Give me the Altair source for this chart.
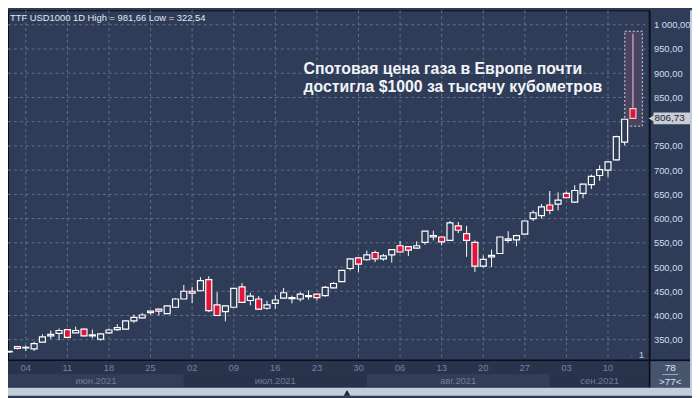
import altair as alt
import pandas as pd

# ---------------- data ----------------
dates = [
    "2021-06-02", "2021-06-03", "2021-06-04", "2021-06-07", "2021-06-08", "2021-06-09", "2021-06-10", "2021-06-11",
    "2021-06-14", "2021-06-15", "2021-06-16", "2021-06-17", "2021-06-18", "2021-06-21", "2021-06-22", "2021-06-23",
    "2021-06-24", "2021-06-25", "2021-06-28", "2021-06-29", "2021-06-30",
    "2021-07-01", "2021-07-02", "2021-07-05", "2021-07-06", "2021-07-07", "2021-07-08", "2021-07-09", "2021-07-12",
    "2021-07-13", "2021-07-14", "2021-07-15", "2021-07-16", "2021-07-19", "2021-07-20", "2021-07-21", "2021-07-22",
    "2021-07-23", "2021-07-26", "2021-07-27", "2021-07-28", "2021-07-29", "2021-07-30",
    "2021-08-02", "2021-08-03", "2021-08-04", "2021-08-05", "2021-08-06", "2021-08-09", "2021-08-10", "2021-08-11",
    "2021-08-12", "2021-08-13", "2021-08-16", "2021-08-17", "2021-08-18", "2021-08-19", "2021-08-20", "2021-08-23",
    "2021-08-24", "2021-08-25", "2021-08-26", "2021-08-27", "2021-08-30", "2021-08-31",
    "2021-09-01", "2021-09-02", "2021-09-03", "2021-09-06", "2021-09-07", "2021-09-08", "2021-09-09", "2021-09-10",
    "2021-09-13", "2021-09-14", "2021-09-15",
]
opens = [325, 336, 333, 331, 345, 358, 363, 371, 364, 372, 358, 351, 364, 371, 372, 389, 395, 406, 413, 404, 417,
         434, 450, 451, 474, 422, 408, 417, 459, 431, 434, 415, 425, 436, 435, 434, 439, 444, 441, 457, 470, 497, 519,
         515, 530, 517, 525, 544, 542, 539, 551, 562, 562, 555, 585, 569, 551, 502, 521, 528, 555, 556, 568, 600, 606,
         628, 630, 652, 634, 652, 670, 689, 700, 721, 758, 827]
highs = [327, 337, 338, 346, 361, 369, 373, 372, 377, 373, 371, 363, 373, 382, 390, 402, 405, 410, 414, 421, 436,
         463, 459, 479, 481, 448, 421, 457, 467, 447, 440, 430, 442, 457, 441, 448, 452, 445, 461, 469, 494, 518, 520,
         534, 534, 527, 536, 554, 543, 553, 574, 575, 563, 595, 593, 585, 555, 524, 536, 563, 574, 567, 596, 617, 630,
         657, 654, 656, 669, 672, 691, 710, 718, 771, 806, 981.66]
lows = [322.54, 330, 327, 327, 345, 352, 349, 354, 364, 357, 353, 348, 362, 368, 372, 385, 394, 402, 400, 403, 416,
        434, 426, 450, 407, 399, 388, 416, 426, 421, 412, 412, 414, 435, 425, 429, 433, 431, 439, 456, 469, 493, 490,
        513, 510, 513, 509, 530, 523, 538, 546, 555, 545, 554, 570, 521, 490, 499, 500, 527, 551, 543, 567, 595, 600,
        609, 617, 642, 633, 642, 661, 678, 686, 720, 751, 806.73]
closes = [326, 332, 334, 342, 356, 361, 369, 355, 369, 358, 360, 362, 370, 375, 389, 396, 401, 409, 409, 420, 434,
          450, 446, 472, 410, 400, 420, 456, 427, 440, 413, 422, 432, 447, 437, 444, 441, 437, 458, 466, 493, 517, 506,
          525, 517, 523, 536, 531, 535, 544, 574, 565, 552, 591, 576, 555, 502, 516, 524, 562, 558, 565, 595, 612, 624,
          617, 638, 643, 658, 671, 687, 701, 717, 769, 805, 806.73]

price_ticks = [350, 400, 450, 500, 550, 600, 650, 700, 750, 800, 850, 900, 950, 1000]
month_labels = ["июн.2021", "июл.2021", "авг.2021", "сен.2021"]
header_text = "TTF USD1000 1D High = 981,66 Low = 322,54"
note_lines = ["Спотовая цена газа в Европе почти", "достигла $1000 за тысячу кубометров"]
bars_total = "78"
bars_visible = ">77<"

# ---------------- frames ----------------
df = pd.DataFrame({"date": pd.to_datetime(dates), "o": opens, "h": highs, "l": lows, "c": closes})
df["idx"] = range(len(df))
df["up"] = df["c"] >= df["o"]
df["top"] = df[["o", "c"]].max(axis=1)
df["bot"] = df[["o", "c"]].min(axis=1)
df["x0"] = df["idx"] - 0.36
df["x1"] = df["idx"] + 0.36
df["fill"] = ["#2f3c58" if u else "#e3143b" for u in df["up"]]
df["wick"] = "#ffffff"
df["stroke"] = "#ffffff"
df.loc[df.index[-1], "wick"] = "#f4c8cc"
df.loc[df.index[-1], "stroke"] = "#f4c8cc"

XMIN, XMAX = -0.139, 76.99
YMIN, YMAX = 307.8, 1030.0
W, H = 649, 354

# the label nearest to the last price is hidden behind the price tag
hidden = min(price_ticks, key=lambda v: abs(v - closes[-1]))
label_ticks = [v for v in price_ticks if v != hidden]

xs = alt.Scale(domain=[XMIN, XMAX], nice=False, zero=False)
ys = alt.Scale(domain=[YMIN, YMAX], nice=False, zero=False)
yaxis = alt.Axis(
    orient="right", values=label_ticks, grid=False, ticks=False, domain=False, title=None,
    labelExpr="replace(replace(format(datum.value, ',.2f'), ',', ' '), '.', ',')",
    labelAlign="left", labelBaseline="middle", labelPadding=4, labelFont="Liberation Sans",
    labelFontSize=9.5, labelColor="#d2def3", labelOverlap=False, labelBound=False, zindex=1,
)

fridays = df[df["date"].dt.dayofweek == 4].copy()
fridays["lab"] = fridays["date"].dt.strftime("%d")

# month bands
starts = df.groupby(df["date"].dt.month)["idx"].min().tolist()
band_start = [XMIN] + starts[1:]
band_end = starts[1:] + [XMAX]
bands = pd.DataFrame({
    "s": band_start, "e": band_end, "lab": month_labels,
    "fill": ["#313d59", "#27324b", "#313d59", "#27324b"],
})
bands["mid"] = (bands["s"] + bands["e"]) / 2

grid_df = pd.DataFrame({"v": price_ticks})
one = pd.DataFrame({"a": [0]})
last = df.iloc[[-1]].copy()
last["hx0"] = last["idx"] - 0.98
last["hx1"] = last["idx"] + 1.13
last["hy0"] = last["h"] + 5
last["hy1"] = last["c"] - 16
last["by0"] = last["c"] + 12.2
last["by1"] = last["c"] - 12.2
last["lab"] = f"{closes[-1]:.2f}".replace(".", ",")

# ---------------- layers ----------------
base = alt.Chart(df)

bottom_bg = alt.Chart(one).mark_rect(color="#28334c").encode(
    x=alt.value(0), x2=alt.value(690), y=alt.value(354), y2=alt.value(382))
band_rect = alt.Chart(bands).mark_rect().encode(
    x=alt.X("s:Q", scale=xs, axis=None), x2="e:Q",
    y=alt.value(368), y2=alt.value(381), color=alt.Color("fill:N", scale=None))
corner_box = alt.Chart(one).mark_rect(color="#47546d").encode(
    x=alt.value(650), x2=alt.value(690), y=alt.value(355), y2=alt.value(382))
frame_r = alt.Chart(one).mark_rect(color="#c3cedb").encode(
    x=alt.value(690), x2=alt.value(700), y=alt.value(0), y2=alt.value(390))
frame_b = alt.Chart(one).mark_rect(color="#c3cedb").encode(
    x=alt.value(0), x2=alt.value(700), y=alt.value(382), y2=alt.value(390))

hgrid = alt.Chart(grid_df).mark_rule(color="#60708e", strokeDash=[3, 3], strokeWidth=1).encode(
    y=alt.Y("v:Q", scale=ys, axis=yaxis), x=alt.value(0), x2=alt.value(W))
vgrid = alt.Chart(fridays).mark_rule(color="#60708e", strokeDash=[3, 3], strokeWidth=1).encode(
    x=alt.X("idx:Q", scale=xs, axis=None), y=alt.value(0), y2=alt.value(H))

hl = alt.Chart(last).mark_rect(fill="#4b4362", stroke="#d9d9d9", strokeDash=[2, 2], strokeWidth=1).encode(
    x=alt.X("hx0:Q", scale=xs, axis=None), x2="hx1:Q",
    y=alt.Y("hy0:Q", scale=ys, axis=yaxis), y2="hy1:Q")

wicks = base.mark_rule(strokeWidth=1, clip=True).encode(
    x=alt.X("idx:Q", scale=xs, axis=None),
    y=alt.Y("l:Q", scale=ys, axis=yaxis), y2="h:Q",
    color=alt.Color("wick:N", scale=None))
bodies = base.mark_rect(strokeWidth=1.2, clip=True).encode(
    x=alt.X("x0:Q", scale=xs, axis=None), x2="x1:Q",
    y=alt.Y("top:Q", scale=ys, axis=yaxis), y2="bot:Q",
    fill=alt.Fill("fill:N", scale=None), stroke=alt.Stroke("stroke:N", scale=None))

vline = alt.Chart(one).mark_rule(color="#0b0f18", strokeWidth=1.5).encode(
    x=alt.value(W), y=alt.value(0), y2=alt.value(382))
hline = alt.Chart(one).mark_rule(color="#0b0f18", strokeWidth=1.5).encode(
    y=alt.value(H), x=alt.value(0), x2=alt.value(690))

tick_text = alt.Chart(fridays).mark_text(
    font="Liberation Sans", fontSize=9.5, color="#75839c", baseline="middle").encode(
    x=alt.X("idx:Q", scale=xs, axis=None), y=alt.value(362), text="lab:N")
month_text = alt.Chart(bands).mark_text(
    font="Liberation Sans", fontSize=9.5, color="#6f7d96", baseline="middle").encode(
    x=alt.X("mid:Q", scale=xs, axis=None), y=alt.value(375), text="lab:N")

header = alt.Chart(one).mark_text(
    font="Liberation Sans", fontSize=9.5, color="#e2e9f4", align="left", baseline="middle").encode(
    x=alt.value(2), y=alt.value(7.5), text=alt.value(header_text))
note1 = alt.Chart(one).mark_text(
    font="Liberation Sans", fontSize=16, fontWeight="bold", color="#f2f4f8", align="left",
    baseline="alphabetic").encode(x=alt.value(299), y=alt.value(64), text=alt.value(note_lines[0]))
note2 = alt.Chart(one).mark_text(
    font="Liberation Sans", fontSize=16, fontWeight="bold", color="#f2f4f8", align="left",
    baseline="alphabetic").encode(x=alt.value(299), y=alt.value(83), text=alt.value(note_lines[1]))

pbox = alt.Chart(last).mark_rect(color="#c9ced6").encode(
    x=alt.value(653), x2=alt.value(690),
    y=alt.Y("by0:Q", scale=ys, axis=yaxis), y2="by1:Q")
parrow = alt.Chart(last).mark_point(shape="triangle-left", filled=True, color="#c9ced6", size=45, opacity=1).encode(
    x=alt.value(651), y=alt.Y("c:Q", scale=ys, axis=yaxis))
ptext = alt.Chart(last).mark_text(
    font="Liberation Sans", fontSize=10, color="#1b2233", align="left", baseline="middle").encode(
    x=alt.value(654), y=alt.Y("c:Q", scale=ys, axis=yaxis), text="lab:N")

c78 = alt.Chart(one).mark_text(
    font="Liberation Sans", fontSize=10, color="#dde6f2", baseline="middle").encode(
    x=alt.value(670), y=alt.value(362), text=alt.value(bars_total))
c77 = alt.Chart(one).mark_text(
    font="Liberation Sans", fontSize=10, color="#dde6f2", baseline="middle").encode(
    x=alt.value(670), y=alt.value(376), text=alt.value(bars_visible))
cline = alt.Chart(one).mark_rule(color="#9aa8bd", strokeWidth=1).encode(
    y=alt.value(368.5), x=alt.value(662), x2=alt.value(678))
one_txt = alt.Chart(one).mark_text(
    font="Liberation Sans", fontSize=10, color="#a9c8f0", baseline="middle").encode(
    x=alt.value(641), y=alt.value(349), text=alt.value("1"))
one_tri = alt.Chart(one).mark_point(shape="triangle-up", filled=True, color="#3a4866", size=25, opacity=1).encode(
    x=alt.value(631), y=alt.value(350))
bot_tri = alt.Chart(one).mark_point(shape="triangle-up", filled=True, color="#1c2435", size=45, opacity=1).encode(
    x=alt.value(343), y=alt.value(387))

chart = alt.layer(
    bottom_bg, band_rect, corner_box, hgrid, vgrid, hl, wicks, bodies,
    vline, hline, tick_text, month_text, header, note1, note2,
    pbox, parrow, ptext, c78, c77, cline, one_txt, one_tri, frame_r, frame_b, bot_tri,
).properties(
    width=W, height=H,
    autosize=alt.AutoSizeParams(type="none"),
    padding={"left": 0, "top": 0, "right": 43, "bottom": 36},
    background="#2f3c58",
).configure_view(stroke="#0b0f18", strokeWidth=1)

chart.save("out.html", embed_options={"renderer": "svg", "actions": False})
